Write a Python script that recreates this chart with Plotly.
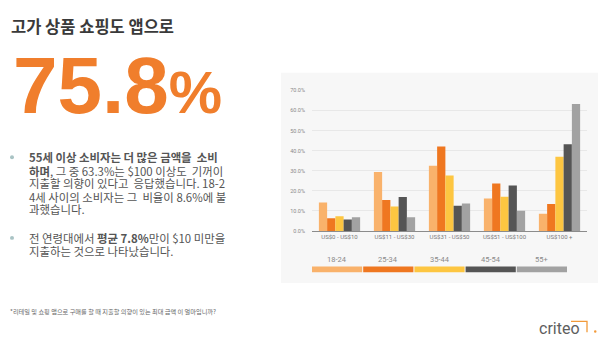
import plotly.graph_objects as go

W, H = 613, 350

categories = ["US$0 - US$10", "US$11 - US$30", "US$31 - US$50", "US$51 - US$100", "US$100 +"]
age_groups = ["18-24", "25-34", "35-44", "45-54", "55+"]
v_18_24 = [14.2, 29.4, 32.5, 16.2, 8.6]
v_25_34 = [6.4, 15.5, 42.1, 23.7, 13.4]
v_35_44 = [7.3, 12.2, 27.6, 17.1, 37.0]
v_45_54 = [5.7, 17.0, 12.6, 22.7, 43.2]
v_55_up = [6.9, 6.9, 13.7, 10.1, 63.3]
series_values = [v_18_24, v_25_34, v_35_44, v_45_54, v_55_up]
colors = ["#F9B26B", "#EF7720", "#FDC641", "#555555", "#A2A2A2"]

tick_vals = [0, 0.1, 0.2, 0.3, 0.4, 0.5, 0.6, 0.7]

def px(x):
    return x / W

def py(y):
    return 1 - y / H

fig = go.Figure()
for name, vals, c in zip(age_groups, series_values, colors):
    fig.add_trace(go.Bar(
        x=categories, y=[v / 100 for v in vals], name=name,
        marker=dict(color=c, line=dict(width=0)), showlegend=False,
    ))

shapes = []
# chart panel background
shapes.append(dict(type="rect", xref="paper", yref="paper",
                   x0=px(281), x1=px(598), y0=py(285), y1=py(71),
                   fillcolor="#F7F7F7", line=dict(width=0), layer="below"))

annotations = []
# custom legend: label over a coloured strip
leg_x0, leg_x1 = 312, 568
seg = (leg_x1 - leg_x0) / len(age_groups)
for i, (name, c) in enumerate(zip(age_groups, colors)):
    a = leg_x0 + i * seg
    b = a + seg - 1
    shapes.append(dict(type="rect", xref="paper", yref="paper",
                       x0=px(a), x1=px(b), y0=py(274), y1=py(268),
                       fillcolor=c, line=dict(width=0)))
    annotations.append(dict(text=name, x=px((a + b) / 2), y=py(261),
                            xref="paper", yref="paper", showarrow=False,
                            xanchor="center", yanchor="middle",
                            font=dict(size=7.5, color="#8A8A8A", family="Roboto")))

# Title
annotations.append(dict(text="<b>고가 상품 쇼핑도 앱으로</b>", x=px(9), y=py(23),
                        xref="paper", yref="paper", showarrow=False,
                        xanchor="left", yanchor="middle",
                        font=dict(size=16.5, color="#3A3A3A", family="Noto Sans CJK KR")))
# big number
annotations.append(dict(text="<b>75.8<span style='font-size:60px'>%</span></b>",
                        x=px(11), y=py(84), xref="paper", yref="paper", showarrow=False,
                        xanchor="left", yanchor="middle",
                        font=dict(size=80, color="#F07E2C", family="Liberation Sans")))

body_lines = [
    (157, "<b>55세 이상 소비자는 더 많은 금액을  소비</b>"),
    (170.5, "<b>하며</b>, 그 중 63.3%는 $100 이상도  기꺼이"),
    (183.5, "지출할 의향이 있다고  응답했습니다. 18-2"),
    (197, "4세 사이의 소비자는 그  비율이 8.6%에 불"),
    (210, "과했습니다."),
    (239, "전 연령대에서 <b>평균 7.8%</b>만이 $10 미만을"),
    (252, "지출하는 것으로 나타났습니다."),
]
for yy, t in body_lines:
    annotations.append(dict(text=t, x=px(27), y=py(yy), xref="paper", yref="paper",
                            showarrow=False, xanchor="left", yanchor="middle",
                            font=dict(size=11.4, color="#555555", family="Noto Sans CJK KR")))
for yy in (157, 239):
    shapes.append(dict(type="circle", xref="paper", yref="paper",
                       x0=px(10), x1=px(14), y0=py(yy + 2), y1=py(yy - 2),
                       fillcolor="#A9C3C4", line=dict(width=0)))

# footnote
annotations.append(dict(text="*리테일 및 쇼핑 앱으로 구매를 할 때 지출할 의향이 있는 최대 금액 이 얼마입니까?",
                        x=px(8), y=py(314), xref="paper", yref="paper", showarrow=False,
                        xanchor="left", yanchor="middle",
                        font=dict(size=6.2, color="#666666", family="Noto Sans CJK KR")))
# criteo logo
annotations.append(dict(text="criteo", x=px(537), y=py(331), xref="paper", yref="paper",
                        showarrow=False, xanchor="left", yanchor="middle",
                        font=dict(size=16, color="#5E5E5E", family="Roboto")))
shapes.append(dict(type="path", xref="paper", yref="paper",
                   path=f"M {px(571)},{py(324)} L {px(587)},{py(324)} L {px(587)},{py(335)}",
                   line=dict(color="#F29A3A", width=1.3)))
shapes.append(dict(type="circle", xref="paper", yref="paper",
                   x0=px(594), x1=px(596.5), y0=py(335.5), y1=py(333),
                   fillcolor="#F29A3A", line=dict(width=0)))

fig.update_layout(
    width=W, height=H,
    margin=dict(l=0, r=0, t=0, b=0),
    paper_bgcolor="white", plot_bgcolor="rgba(0,0,0,0)",
    barmode="group", bargap=0.25, bargroupgap=0,
    shapes=shapes, annotations=annotations,
    xaxis=dict(domain=[px(312), px(587)], showline=True, linecolor="#8C8C8C", linewidth=1,
               ticks="", showgrid=False,
               tickfont=dict(size=6, color="#7A7A7A", family="Roboto")),
    yaxis=dict(domain=[py(232), py(89)], range=[0, 0.7], tickvals=tick_vals,
               tickformat=".1%", showgrid=True, gridcolor="#E8E8E8", gridwidth=1,
               zeroline=False, showline=False, ticks="", ticklabelstandoff=6,
               tickfont=dict(size=5.5, color="#8A8A8A", family="Roboto")),
)

fig.write_html("out.html")
